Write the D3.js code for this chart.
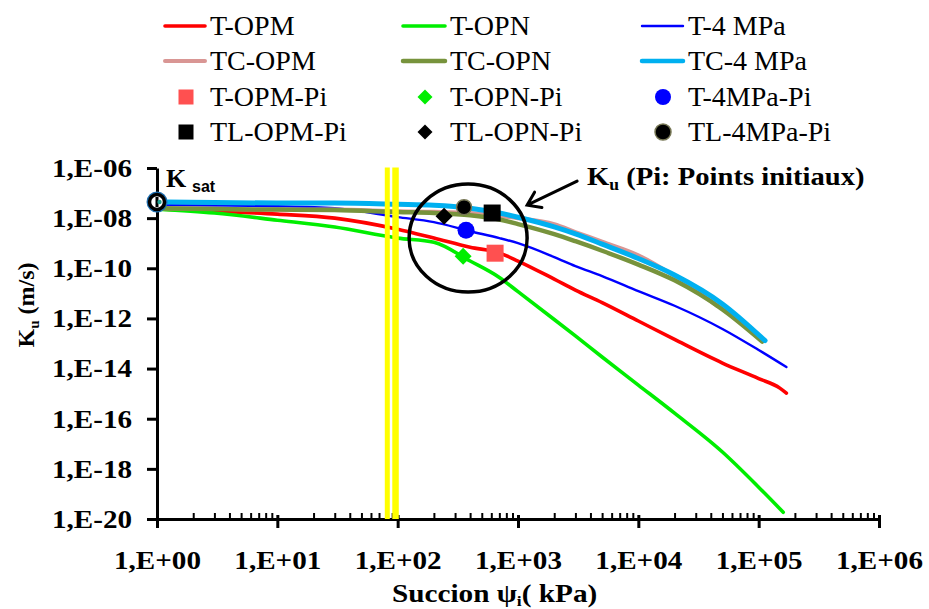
<!DOCTYPE html>
<html><head><meta charset="utf-8">
<script src="https://cdn.jsdelivr.net/npm/d3@7"></script>
<style>body{margin:0;background:#fff}svg{display:block}</style>
</head><body>
<svg id="c" width="929" height="609"></svg>
<script>
// ---------- DATA ----------
const xTickValues = [1, 1e1, 1e2, 1e3, 1e4, 1e5, 1e6];
const xTickLabels = ["1,E+00","1,E+01","1,E+02","1,E+03","1,E+04","1,E+05","1,E+06"];
const yTickValues = [1e-6, 1e-8, 1e-10, 1e-12, 1e-14, 1e-16, 1e-18, 1e-20];
const yTickLabels = ["1,E-06","1,E-08","1,E-10","1,E-12","1,E-14","1,E-16","1,E-18","1,E-20"];

const suctionTOPM = [1,3,10,30,100,200,400,700,1000,2000,3000,5000,10000,20000,50000,100000,150000,170000];
const kTOPM = [2.3e-8,1.9e-8,1.45e-8,1.0e-8,3.6e-9,1.6e-9,6.9e-10,4.1e-10,1.95e-10,3.7e-11,1.35e-11,4.3e-12,7.9e-13,1.45e-13,1.66e-14,4.0e-15,1.66e-15,1.05e-15];

const suctionTOPN = [1,3,10,30,100,200,400,700,1000,2000,3000,5000,10000,20000,50000,100000,160000];
const kTOPN = [2.3e-8,1.6e-8,8.3e-9,4.4e-9,1.6e-9,1.1e-9,1.95e-10,4.3e-11,1.17e-11,9.1e-13,2.0e-13,2.9e-14,2.2e-15,1.66e-16,4.7e-18,1.86e-19,1.86e-20];

const suctionT4MPa = [1,3,10,30,100,200,400,700,1000,2000,3000,5000,10000,20000,50000,100000,170000];
const kT4MPa = [3.3e-8,3.2e-8,3.0e-8,2.5e-8,1.1e-8,6.9e-9,3.0e-9,1.6e-9,1.0e-9,2.8e-10,1.23e-10,4.9e-11,1.23e-11,3.2e-12,3.8e-13,5.5e-14,1.15e-14];

const suctionTCOPM = [1,3,10,30,100,200,400,700,1000,2000,3000,5000,10000,20000,45000];
const kTCOPM = [2.5e-8,2.35e-8,2.2e-8,2.2e-8,1.9e-8,1.8e-8,1.6e-8,1.2e-8,1.0e-8,5.8e-9,2.8e-9,1.15e-9,3.3e-10,4.9e-11,3.2e-12];

const suctionTCOPN = [1,3,10,30,100,200,400,700,1000,2000,3000,5000,10000,20000,50000,107000];
const kTCOPN = [2.5e-8,2.3e-8,2.2e-8,2.1e-8,1.75e-8,1.6e-8,1.3e-8,8.8e-9,5.8e-9,2.3e-9,1.2e-9,5.0e-10,1.4e-10,3.3e-11,2.3e-12,1.2e-13];

const suctionTC4MPa = [1,3,10,30,100,200,400,700,1000,2000,3000,5000,10000,20000,50000,113000];
const kTC4MPa = [4.4e-8,4.2e-8,4.0e-8,4.0e-8,3.6e-8,3.3e-8,2.5e-8,1.6e-8,1.09e-8,4.5e-9,2.37e-9,9.2e-10,2.45e-10,5.4e-11,3.8e-12,1.3e-13];

// initial points (Pi)
const piNames   = ["T-OPM-Pi","T-OPN-Pi","T-4MPa-Pi","TL-OPM-Pi","TL-OPN-Pi","TL-4MPa-Pi"];
const piSuction = [645, 350, 370, 610, 243, 356];
const piK       = [4.0e-10, 3.0e-10, 3.3e-9, 1.6e-8, 1.2e-8, 2.75e-8];

const ksatSuction = 1, ksatK = 4.4e-8;
const yellowSuction = [82, 96];

// ---------- SETUP ----------
const serif = "'Liberation Serif','Times New Roman',serif";
const sans = "'Liberation Sans',Arial,sans-serif";
const svg = d3.select("#c");
const x = d3.scaleLog().domain([1, 1e6]).range([157, 879]);
const y = d3.scaleLog().domain([1e-20, 1e-6]).range([519, 168]);

const series = [
  {name:"T-OPM",   s:suctionTOPM,   k:kTOPM,   color:"#ff0000", w:3.6},
  {name:"T-OPN",   s:suctionTOPN,   k:kTOPN,   color:"#00ee00", w:3.6},
  {name:"T-4 MPa", s:suctionT4MPa,  k:kT4MPa,  color:"#0000ff", w:2.4},
  {name:"TC-OPM",  s:suctionTCOPM,  k:kTCOPM,  color:"#d99694", w:4},
  {name:"TC-OPN",  s:suctionTCOPN,  k:kTCOPN,  color:"#77933c", w:4.5},
  {name:"TC-4 MPa",s:suctionTC4MPa, k:kTC4MPa, color:"#00b0f0", w:5}
];

// ---------- AXES ----------
const yAxis = d3.axisLeft(y).tickValues(yTickValues).tickFormat((d,i)=>yTickLabels[i])
  .tickSize(10).tickSizeOuter(0).tickPadding(15);
const gy = svg.append("g").attr("transform","translate(157,0)").call(yAxis);
gy.select(".domain").attr("stroke","#000").attr("stroke-width",3);
gy.selectAll(".tick line").attr("stroke","#000").attr("stroke-width",3);
gy.selectAll(".tick text").style("font-family",serif).style("font-weight","bold").style("font-size","26px")
  .attr("fill","#000").attr("textLength",80).attr("lengthAdjust","spacingAndGlyphs");

const minorVals = [];
for (let d = 0; d < 6; d++) for (let m = 2; m <= 9; m++) minorVals.push(m * Math.pow(10, d));
const gxm = svg.append("g").attr("transform","translate(0,519)")
  .call(d3.axisBottom(x).tickValues(minorVals).tickSize(-6).tickSizeOuter(0).tickFormat(""));
gxm.select(".domain").remove();
gxm.selectAll(".tick line").attr("stroke","#000").attr("stroke-width",2);

const xAxis = d3.axisBottom(x).tickValues(xTickValues).tickFormat((d,i)=>xTickLabels[i])
  .tickSize(9).tickSizeOuter(0).tickPadding(23);
const gx = svg.append("g").attr("transform","translate(0,519)").call(xAxis);
gx.select(".domain").attr("stroke","#000").attr("stroke-width",3);
gx.selectAll(".tick line").attr("stroke","#000").attr("stroke-width",3).attr("y1",-4);
gx.selectAll(".tick text").style("font-family",serif).style("font-weight","bold").style("font-size","26px")
  .attr("fill","#000").attr("textLength",87).attr("lengthAdjust","spacingAndGlyphs");

// axis titles
const yt = svg.append("text").attr("transform","translate(34,305) rotate(-90)")
  .attr("text-anchor","middle").style("font-family",serif).style("font-weight","bold").style("font-size","24px");
yt.append("tspan").text("K");
yt.append("tspan").style("font-size","15px").attr("dy",5).text("u");
yt.append("tspan").attr("dy",-5).text(" (m/s)");

const xt = svg.append("text").attr("transform","translate(392,602) scale(1.17,1)")
  .style("font-family",serif).style("font-weight","bold").style("font-size","25px");
xt.append("tspan").text("Succion ψ");
xt.append("tspan").style("font-size","15px").attr("dy",4).text("i");
xt.append("tspan").attr("dy",-4).text("( kPa)");

// ---------- CURVES ----------
const line = d3.line().x(d=>x(d[0])).y(d=>y(d[1])).curve(d3.curveMonotoneX);
series.forEach(s => {
  svg.append("path").attr("d", line(d3.zip(s.s, s.k))).attr("fill","none")
    .attr("stroke", s.color).attr("stroke-width", s.w)
    .attr("stroke-linecap","round").attr("stroke-linejoin","round");
});

// yellow vertical lines
svg.selectAll("line.yel").data(yellowSuction).join("line").attr("class","yel")
  .attr("x1",d=>x(d)).attr("x2",d=>x(d)).attr("y1",y(1.05e-6)).attr("y2",y(1e-20))
  .attr("stroke","#ffff00").attr("stroke-width",(d,i)=>i===0?5:6.5);

// ---------- MARKERS ----------
function marker(g, type, cx, cy, size, fill, stroke) {
  if (type === "square") {
    g.append("rect").attr("x",cx-size/2).attr("y",cy-size/2).attr("width",size).attr("height",size).attr("fill",fill);
  } else if (type === "diamond") {
    const h = size/2;
    g.append("path").attr("d",`M${cx},${cy-h}L${cx+h},${cy}L${cx},${cy+h}L${cx-h},${cy}Z`).attr("fill",fill);
  } else {
    const c = g.append("circle").attr("cx",cx).attr("cy",cy).attr("r",size/2).attr("fill",fill);
    if (stroke) c.attr("stroke",stroke).attr("stroke-width",1.5);
  }
}
const piStyle = [
  {type:"square", fill:"#ff5050"},
  {type:"diamond", fill:"#00ee00"},
  {type:"circle", fill:"#0000ff"},
  {type:"square", fill:"#000000"},
  {type:"diamond", fill:"#000000"},
  {type:"circle", fill:"#000000", stroke:"#777755"}
];
const gp = svg.append("g");
piSuction.forEach((s,i) => {
  const st = piStyle[i];
  marker(gp, st.type, x(s), y(piK[i]), st.type==="circle" ? (i===5?15:17) : 17, st.fill, st.stroke);
});

// Ksat marker
const kx = x(ksatSuction), ky = y(ksatK);
svg.append("circle").attr("cx",kx).attr("cy",ky).attr("r",8).attr("fill","none").attr("stroke","#1f6fb0").attr("stroke-width",5);
svg.append("circle").attr("cx",kx).attr("cy",ky).attr("r",7.5).attr("fill","#fff").attr("stroke","#000").attr("stroke-width",3.5);
svg.append("line").attr("x1",kx).attr("x2",kx).attr("y1",ky-5).attr("y2",ky+5).attr("stroke","#000").attr("stroke-width",3);
svg.append("circle").attr("cx",kx+2.5).attr("cy",ky).attr("r",2.2).attr("fill","#20a090");
const ks = svg.append("g");
ks.append("text").attr("x",166).attr("y",187).style("font-family",serif).style("font-weight","bold").style("font-size","26px").text("K");
ks.append("text").attr("x",192).attr("y",192).style("font-family",sans).style("font-weight","bold").style("font-size","16px").text("sat");

// ---------- ANNOTATION ----------
svg.append("ellipse").attr("cx",x(385)).attr("cy",y(1.6e-9)).attr("rx",59).attr("ry",54)
  .attr("fill","none").attr("stroke","#000").attr("stroke-width",3.5);
const a0 = [x(3100), y(3.0e-7)], a1 = [x(1190), y(3.3e-8)];
{
  const dx = a1[0]-a0[0], dy = a1[1]-a0[1], L = Math.hypot(dx,dy), ux = dx/L, uy = dy/L;
  const hl = 15, ang = 0.6;
  const w1 = [a1[0] - hl*(ux*Math.cos(ang) - uy*Math.sin(ang)), a1[1] - hl*(uy*Math.cos(ang) + ux*Math.sin(ang))];
  const w2 = [a1[0] - hl*(ux*Math.cos(-ang) - uy*Math.sin(-ang)), a1[1] - hl*(uy*Math.cos(-ang) + ux*Math.sin(-ang))];
  svg.append("path").attr("d",`M${a0[0]},${a0[1]}L${a1[0]},${a1[1]}M${w1[0]},${w1[1]}L${a1[0]},${a1[1]}L${w2[0]},${w2[1]}`)
    .attr("fill","none").attr("stroke","#000").attr("stroke-width",3).attr("stroke-linecap","round").attr("stroke-linejoin","miter");
}
const at = svg.append("text").attr("transform","translate(587,185) scale(1.1,1)")
  .style("font-family",serif).style("font-weight","bold").style("font-size","26px");
at.append("tspan").text("K");
at.append("tspan").style("font-size","16px").attr("dy",5).text("u");
at.append("tspan").attr("dy",-5).text(" (Pi: Points initiaux)");

// ---------- LEGEND ----------
const colX1 = [165, 403, 642], colX2 = [205, 445, 683], colText = [210, 450, 688], colMark = [186, 425, 663];
const rowY = [26, 61, 97, 132];
const gl = svg.append("g");
series.forEach((s,i) => {
  const c = i % 3, r = Math.floor(i/3);
  gl.append("line").attr("x1",colX1[c]).attr("x2",colX2[c]).attr("y1",rowY[r]).attr("y2",rowY[r])
    .attr("stroke",s.color).attr("stroke-width",Math.min(s.w,4.5)).attr("stroke-linecap","round");
  gl.append("text").attr("x",colText[c]).attr("y",rowY[r]+9).style("font-family",serif).style("font-size","28px").text(s.name);
});
piNames.forEach((n,i) => {
  const c = i % 3, r = 2 + Math.floor(i/3);
  const st = piStyle[i];
  marker(gl, st.type, colMark[c], rowY[r], st.type==="circle" ? 16 : 15, st.fill, st.stroke);
  gl.append("text").attr("x",colText[c]).attr("y",rowY[r]+9).style("font-family",serif).style("font-size","28px").text(n);
});
</script>
</body></html>
